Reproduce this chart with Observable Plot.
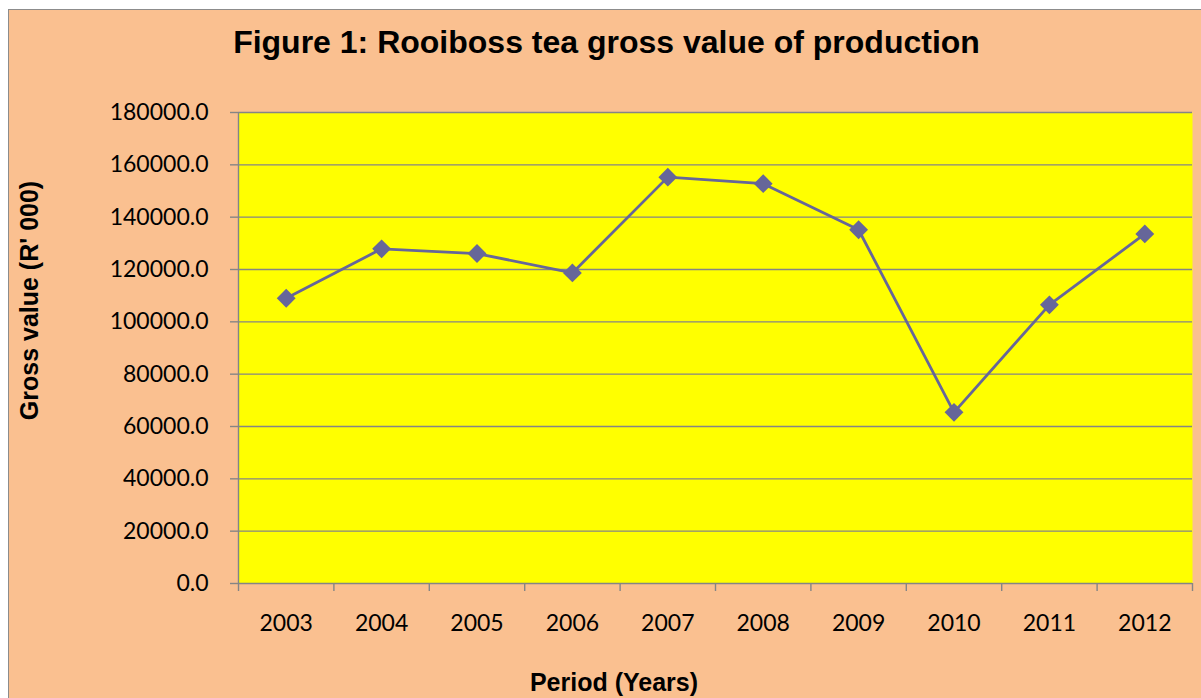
<!DOCTYPE html>
<html>
<head>
<meta charset="utf-8">
<script src="https://cdn.jsdelivr.net/npm/d3@7"></script>
<script src="https://cdn.jsdelivr.net/npm/@observablehq/plot@0.6"></script>
<style>
  html, body { margin: 0; padding: 0; background: #ffffff; }
  body { width: 1201px; height: 698px; overflow: hidden; position: relative; }
  #frame { position: absolute; left: 8px; top: 9px; width: 1220px; height: 720px;
           border-left: 1.5px solid #8c8c8c; border-top: 1.5px solid #8c8c8c; background: #FAC090; }
  #chart { position: absolute; left: 0; top: 0; }
  .lbl { position: absolute; font-family: "Liberation Sans", Arial, sans-serif; font-weight: bold; color: #000; text-align: center; white-space: nowrap; }
  #title { left: 106.5px; width: 1000px; top: 25.9px; height: 32px; font-size: 32px; line-height: 32px; }
  #xtitle { left: 414px; width: 400px; top: 669.8px; height: 25px; font-size: 25px; line-height: 25px; }
  #ytitle { left: -170.7px; width: 400px; top: 287.5px; height: 25px; font-size: 25px; line-height: 25px; transform: rotate(-90deg); }
</style>
</head>
<body>
<div id="frame"></div>
<div id="chart"></div>
<div class="lbl" id="title">Figure 1: Rooiboss tea gross value of production</div>
<div class="lbl" id="ytitle">Gross value (R' 000)</div>
<div class="lbl" id="xtitle">Period (Years)</div>
<script>
const years = [2003, 2004, 2005, 2006, 2007, 2008, 2009, 2010, 2011, 2012];
const grossValue = [109000, 127900, 126100, 118700, 155300, 152800, 135200, 65400, 106500, 133600];
const yTicks = [0, 20000, 40000, 60000, 80000, 100000, 120000, 140000, 160000, 180000];

const data = years.map((year, i) => ({year, value: grossValue[i]}));
const boundaries = [years[0] - 0.5, ...years.map(y => y + 0.5)];

const chart = Plot.plot({
  width: 1201,
  height: 698,
  marginLeft: 238,
  marginRight: 9,
  marginTop: 112,
  marginBottom: 115,
  style: { background: "transparent", fontFamily: "Lato, 'Open Sans', sans-serif", fontSize: "23px", color: "#000" },
  x: { type: "linear", domain: [boundaries[0], boundaries[boundaries.length - 1]] },
  y: { domain: [0, 180000] },
  marks: [
    Plot.frame({ fill: "#ffff00", stroke: null }),
    Plot.ruleY(yTicks, { stroke: "#858585", strokeWidth: 1.4 }),
    Plot.ruleX([boundaries[0]], { stroke: "#858585", strokeWidth: 1.4 }),
    Plot.axisY({ ticks: yTicks, tickSize: 8, tickPadding: 22, stroke: "#858585", strokeWidth: 1.4, fill: "#000",
                 tickFormat: d3.format(".1f"), label: null }),
    Plot.axisX({ ticks: boundaries, tickSize: 8, stroke: "#858585", strokeWidth: 1.4, tickFormat: () => "", label: null }),
    Plot.axisX({ ticks: years, tickSize: 0, tickPadding: 31, fill: "#000", tickFormat: d => String(d), label: null }),
    Plot.line(data, { x: "year", y: "value", stroke: "#666699", strokeWidth: 2.8 }),
    Plot.dot(data, { x: "year", y: "value", symbol: "diamond2", r: 8.5, fill: "#666699", stroke: null })
  ]
});
document.getElementById("chart").appendChild(chart);
</script>
</body>
</html>
